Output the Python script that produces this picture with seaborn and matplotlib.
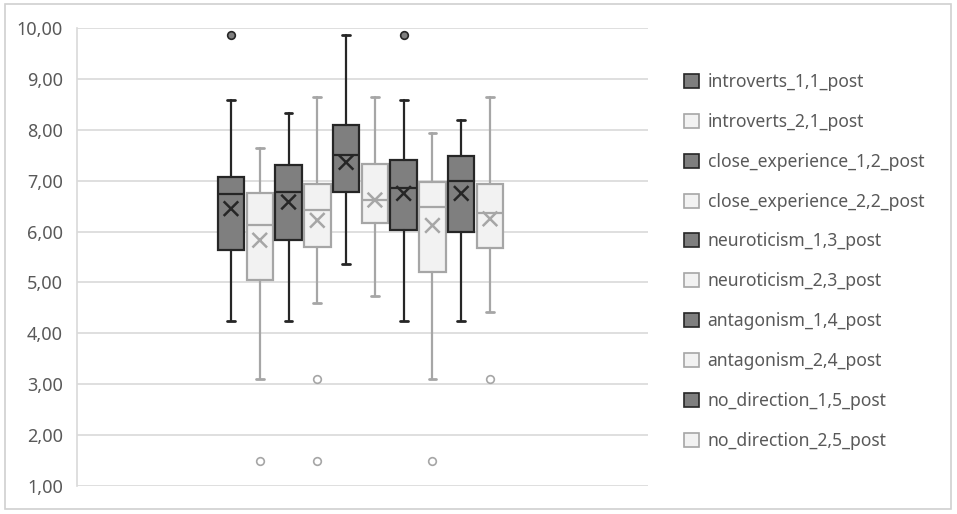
import numpy as np
import pandas as pd
import matplotlib
matplotlib.use('Agg')
import matplotlib.pyplot as plt
import seaborn as sns
from matplotlib.patches import Patch, Rectangle
from matplotlib.ticker import FuncFormatter

# Данные
names = ['introverts_1,1_post', 'introverts_2,1_post',
         'close_experience_1,2_post', 'close_experience_2,2_post',
         'neuroticism_1,3_post', 'neuroticism_2,3_post',
         'antagonism_1,4_post', 'antagonism_2,4_post',
         'no_direction_1,5_post', 'no_direction_2,5_post']
whislo = [4.25, 3.10, 4.25, 4.60, 5.37, 4.74, 4.25, 3.10, 4.25, 4.42]
q1 = [5.63, 5.04, 5.83, 5.70, 6.78, 6.17, 6.03, 5.20, 6.00, 5.67]
med = [6.73, 6.13, 6.78, 6.43, 7.51, 6.62, 6.85, 6.48, 6.99, 6.37]
q3 = [7.08, 6.75, 7.31, 6.94, 8.10, 7.33, 7.41, 6.97, 7.48, 6.94]
whishi = [8.59, 7.64, 8.33, 8.65, 9.86, 8.65, 8.59, 7.93, 8.20, 8.65]
means = [6.45, 5.83, 6.58, 6.22, 7.36, 6.62, 6.75, 6.12, 6.75, 6.25]
outliers = [[9.86], [1.5], [], [3.1, 1.5], [], [], [9.86], [1.5], [], [3.1]]

sns.set_style('white')
plt.rcParams['font.family'] = ['Noto Sans', 'DejaVu Sans']

DARK_FACE, DARK_EDGE = '#7f7f7f', '#262626'
LIGHT_FACE, LIGHT_EDGE = '#f2f2f2', '#a6a6a6'
TXT = '#595959'

fig = plt.figure(figsize=(9.57, 5.14), dpi=100)
ax = fig.add_axes([77 / 957, 1 - 486 / 514, (648 - 77) / 957, (486 - 28) / 514])

# рамка вокруг всей картинки
fig.patches.append(Rectangle((5 / 957, 1 - 509 / 514), 946 / 957, 505 / 514,
                             transform=fig.transFigure, fill=False,
                             edgecolor='#d0d0d0', linewidth=1.2))

pos = np.arange(len(names))
for i in pos:
    dark = i % 2 == 0
    face = DARK_FACE if dark else LIGHT_FACE
    edge = DARK_EDGE if dark else LIGHT_EDGE
    stats = [dict(med=med[i], q1=q1[i], q3=q3[i], whislo=whislo[i],
                  whishi=whishi[i], fliers=outliers[i], label=names[i])]
    ax.bxp(stats, positions=[i], widths=0.92, patch_artist=True,
           showfliers=True, manage_ticks=False,
           boxprops=dict(facecolor=face, edgecolor=edge, linewidth=1.6),
           medianprops=dict(color=edge, linewidth=1.6),
           whiskerprops=dict(color=edge, linewidth=1.6),
           capprops=dict(color=edge, linewidth=2.0),
           capwidths=0.27,
           flierprops=dict(marker='o', markersize=5.5,
                           markerfacecolor=DARK_FACE if dark else 'white',
                           markeredgecolor=edge, markeredgewidth=1.2))

# средние значения (крестики)
df = pd.DataFrame({'pos': pos, 'mean': means,
                   'grp': ['1' if i % 2 == 0 else '2' for i in pos]})
sns.scatterplot(data=df, x='pos', y='mean', hue='grp', marker='x',
                palette={'1': DARK_EDGE, '2': LIGHT_EDGE}, s=110,
                linewidth=1.8, legend=False, ax=ax, zorder=5)

ax.set_xlim(-5.35, 14.49)
ax.set_ylim(1, 10)
ax.set_yticks(np.arange(1, 11))
ax.yaxis.set_major_formatter(FuncFormatter(lambda v, p: f'{v:.2f}'.replace('.', ',')))
ax.set_xticks([])
ax.set_xlabel('')
ax.set_ylabel('')
ax.grid(axis='y', color='#d9d9d9', linewidth=1.2)
ax.set_axisbelow(True)
for s in ['top', 'right', 'bottom']:
    ax.spines[s].set_visible(False)
ax.spines['left'].set_color('#d9d9d9')
ax.spines['left'].set_linewidth(1.2)
ax.tick_params(axis='y', length=0, pad=10, labelsize=13, labelcolor=TXT)

handles = [Patch(facecolor=DARK_FACE if i % 2 == 0 else LIGHT_FACE,
                 edgecolor=DARK_EDGE if i % 2 == 0 else LIGHT_EDGE,
                 linewidth=1.2) for i in pos]
fig.legend(handles, names, loc='upper left', bbox_to_anchor=(677 / 957, 1 - 66 / 514),
           frameon=False, fontsize=12.6, labelcolor=TXT, handlelength=0.85,
           handleheight=0.85, handletextpad=0.5, labelspacing=1.25, borderaxespad=0)

plt.savefig('out.png', dpi=100)
